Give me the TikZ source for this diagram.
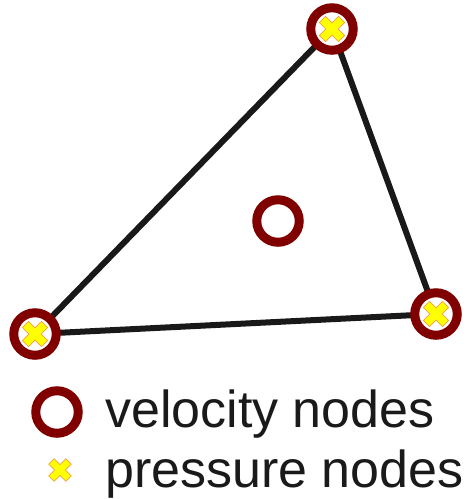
\documentclass[tikz,border=0pt]{standalone}
\usepackage{fontspec}
\setmainfont{Liberation Sans}
\definecolor{ringred}{HTML}{800000}
\definecolor{crossyel}{HTML}{FFFF00}
\definecolor{crossedge}{HTML}{F4A040}
\definecolor{txt}{HTML}{1A1A1A}
\begin{document}
\begin{tikzpicture}[x=1pt,y=-1pt,
  edge/.style={line width=6pt,black!90},
  velnode/.style={circle,draw=ringred,fill=white,line width=9pt,minimum size=42.5pt,inner sep=0pt},
  legtext/.style={anchor=base west,inner sep=0pt,text=txt,font=\fontsize{52}{60}\selectfont},
  pics/xmark/.style={code={
    \fill[crossyel,draw=crossedge,line width=0.7pt,rotate=45]
      (4.3,13.5)--(4.3,4.3)--(13.5,4.3)--(13.5,-4.3)--(4.3,-4.3)--(4.3,-13.5)
      --(-4.3,-13.5)--(-4.3,-4.3)--(-13.5,-4.3)--(-13.5,4.3)--(-4.3,4.3)--(-4.3,13.5)--cycle;
  }}]
\useasboundingbox (0,0) rectangle (468,499);
\coordinate (t) at (332,29);
\coordinate (r) at (436,314);
\coordinate (l) at (35,334);
\draw[edge,line join=round] (t) -- (r) -- (l) -- cycle;
\node[velnode] (T) at (t) {};
\node[velnode] (R) at (r) {};
\node[velnode] (L) at (l) {};
\node[velnode] (C) at (278,221) {};
\pic at (T) {xmark};
\pic at (R) {xmark};
\pic at (L) {xmark};
\node[velnode] (legV) at (57,412) {};
\pic[scale=0.9] at (60,470) {xmark};
\node[legtext] (legVt) at (105,427) {velocity nodes};
\node[legtext] (legPt) at (105,487) {pressure nodes};
\end{tikzpicture}
\end{document}
